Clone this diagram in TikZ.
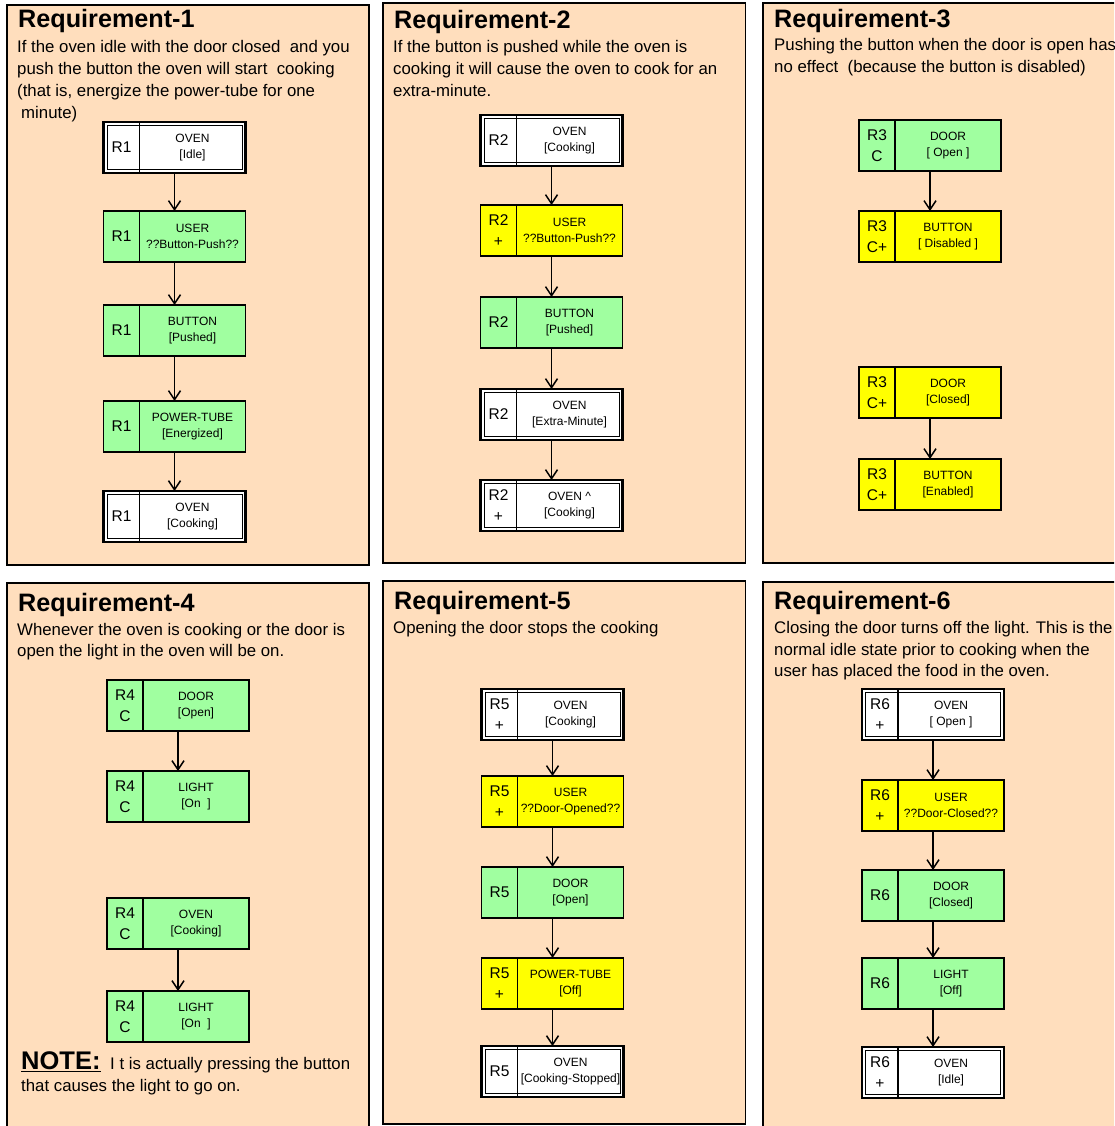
\documentclass[tikz,border=0pt]{standalone}
\usepackage{fontspec}
\setmainfont{Liberation Sans}
\usetikzlibrary{arrows.meta}

\definecolor{peach}{RGB}{255,222,189}
\definecolor{mint}{RGB}{160,255,160}
\definecolor{lemon}{RGB}{255,255,0}

\tikzset{
  panel/.style={draw=black, line width=1.5pt, fill=peach},
  state/.style={draw=black, line width=1.6pt, minimum width=142pt,
    minimum height=51pt, inner sep=0pt, outer sep=0pt},
  gbox/.style={fill=mint},
  ybox/.style={fill=lemon},
  wbox/.style={fill=white, line width=2.2pt},
  divider/.style={draw=black, line width=1.4pt},
  flow/.style={line width=1.5pt,
    -{Straight Barb[length=9pt,width=12pt,line width=1.5pt]}},
  title/.style={anchor=base west, inner sep=0pt,
    font=\fontsize{25.2}{28}\selectfont\bfseries},
  body/.style={anchor=base west, inner sep=0pt,
    font=\fontsize{16.8}{22}\selectfont},
  tagtext/.style={inner sep=0pt, align=center,
    font=\fontsize{15.5}{20.5}\selectfont},
  inscr/.style={inner sep=0pt, align=center,
    font=\fontsize{12}{16}\selectfont},
}

% one state box: name, centre x, top y, fill style, tag, entity, state
\newcommand\stnode[7]{%
  \node[state,#4] (#1) at (#2,#3+25.5) {};
  \draw[divider] ([xshift=36pt]#1.north west) -- ([xshift=36pt]#1.south west);
  \node[tagtext] (#1-tag) at ([xshift=18pt]#1.west) {#5};
  \node[inscr] (#1-txt) at ([xshift=18pt]#1.center) {#6\\{#7}};
}
% the same with a double (framed) outline
\newcommand\stnodeD[7]{%
  \stnode{#1}{#2}{#3}{wbox}{#5}{#6}{#7}%
  \draw[line width=0.9pt] ([shift={(3.5pt,-3.5pt)}]#1.north west)
    rectangle ([shift={(-3.5pt,3.5pt)}]#1.south east);
}

\begin{document}
\begin{tikzpicture}[x=1pt,y=-1pt]
\useasboundingbox (0,0) rectangle (1114,1126);
\fill[white] (0,0) rectangle (1114,1126);
\clip (0,0) rectangle (1114,1126);

% ---------- panels ----------
\draw[panel] (7,5) rectangle (369,565);
\draw[panel] (383,3) rectangle (745.5,563);
\draw[panel] (763,3) rectangle (1130,563);
\draw[panel] (7,583) rectangle (369,1140);
\draw[panel] (383,581) rectangle (745.5,1124);
\draw[panel] (763,582) rectangle (1130,1140);

% ---------- Requirement 1 ----------
\node[title] (t1) at (18,28) {Requirement-1};
\node[body] (b1a) at (17,52.5) {If the oven idle with the door closed\ \ and you};
\node[body] (b1b) at (17,74.5) {push the button the oven will start\ \ cooking};
\node[body] (b1c) at (17,96.5) {(that is, energize the power-tube for one};
\node[body] (b1d) at (21,118.5) {minute)};

\stnodeD{a1}{174.5}{122}{}{R1}{OVEN}{[Idle]}
\stnode{a2}{174.5}{211}{gbox}{R1}{USER}{??Button-Push??}
\stnode{a3}{174.5}{305}{gbox}{R1}{BUTTON}{[Pushed]}
\stnode{a4}{174.5}{401}{gbox}{R1}{POWER-TUBE}{[Energized]}
\stnodeD{a5}{174.5}{491}{}{R1}{OVEN}{[Cooking]}
\draw[flow] (a1.south) -- (a2.north);
\draw[flow] (a2.south) -- (a3.north);
\draw[flow] (a3.south) -- (a4.north);
\draw[flow] (a4.south) -- (a5.north);

% ---------- Requirement 2 ----------
\node[title] (t2) at (394,29) {Requirement-2};
\node[body] (b2a) at (393,52.5) {If the button is pushed while the oven is};
\node[body] (b2b) at (393,74.5) {cooking it will cause the oven to cook for an};
\node[body] (b2c) at (393,96.5) {extra-minute.};

\stnodeD{c1}{551.5}{115}{}{R2}{OVEN}{[Cooking]}
\stnode{c2}{551.5}{205}{ybox}{R2\\+}{USER}{??Button-Push??}
\stnode{c3}{551.5}{297}{gbox}{R2}{BUTTON}{[Pushed]}
\stnodeD{c4}{551.5}{389}{}{R2}{OVEN}{[Extra-Minute]}
\stnodeD{c5}{551.5}{480}{}{R2\\+}{OVEN \^{}}{[Cooking]}
\draw[flow] (c1.south) -- (c2.north);
\draw[flow] (c2.south) -- (c3.north);
\draw[flow] (c3.south) -- (c4.north);
\draw[flow] (c4.south) -- (c5.north);

% ---------- Requirement 3 ----------
\node[title] (t3) at (774,28) {Requirement-3};
\node[body] (b3a) at (774,50.5) {Pushing the button when the door is open has};
\node[body] (b3b) at (774,72.5) {no effect\ \ (because the button is disabled)};

\stnode{e1}{930}{120}{gbox}{R3\\C}{DOOR}{[ Open ]}
\stnode{e2}{930}{211}{ybox}{R3\\C+}{BUTTON}{[ Disabled ]}
\stnode{e3}{930}{367}{ybox}{R3\\C+}{DOOR}{[Closed]}
\stnode{e4}{930}{459}{ybox}{R3\\C+}{BUTTON}{[Enabled]}
\draw[flow] (e1.south) -- (e2.north);
\draw[flow] (e3.south) -- (e4.north);

% ---------- Requirement 4 ----------
\node[title] (t4) at (18,611) {Requirement-4};
\node[body] (b4a) at (17,635.5) {Whenever the oven is cooking or the door is};
\node[body] (b4b) at (17,656.5) {open the light in the oven will be on.};

\stnode{g1}{178}{680}{gbox}{R4\\C}{DOOR}{[Open]}
\stnode{g2}{178}{771}{gbox}{R4\\C}{LIGHT}{[On\ \ ]}
\stnode{g3}{178}{898}{gbox}{R4\\C}{OVEN}{[Cooking]}
\stnode{g4}{178}{991}{gbox}{R4\\C}{LIGHT}{[On\ \ ]}
\draw[flow] (g1.south) -- (g2.north);
\draw[flow] (g3.south) -- (g4.north);

\node[anchor=base west, inner sep=0pt, font=\fontsize{25.5}{28}\selectfont\bfseries]
  (note) at (21,1069.5) {\underline{NOTE:}};
\node[body] (b4c) at (110,1069.5) {I t is actually pressing the button};
\node[body] (b4d) at (21,1091.5) {that causes the light to go on.};

% ---------- Requirement 5 ----------
\node[title] (t5) at (394,609.5) {Requirement-5};
\node[body] (b5a) at (393,633.5) {Opening the door stops the cooking};

\stnodeD{k1}{552.5}{689}{}{R5\\+}{OVEN}{[Cooking]}
\stnode{k2}{552.5}{776}{ybox}{R5\\+}{USER}{??Door-Opened??}
\stnode{k3}{552.5}{867}{gbox}{R5}{DOOR}{[Open]}
\stnode{k4}{552.5}{958}{ybox}{R5\\+}{POWER-TUBE}{[Off]}
\stnodeD{k5}{552.5}{1046}{}{R5}{OVEN}{[Cooking-Stopped]}
\draw[flow] (k1.south) -- (k2.north);
\draw[flow] (k2.south) -- (k3.north);
\draw[flow] (k3.south) -- (k4.north);
\draw[flow] (k4.south) -- (k5.north);

% ---------- Requirement 6 ----------
\node[title] (t6) at (774,609.5) {Requirement-6};
\node[body] (b6a) at (774,633.5) {Closing the door turns off the light. This is the};
\node[body] (b6b) at (774,655.5) {normal idle state prior to cooking when the};
\node[body] (b6c) at (774,676.5) {user has placed the food in the oven.};

\stnodeD{m1}{933}{689}{}{R6\\+}{OVEN}{[ Open ]}
\stnode{m2}{933}{780}{ybox}{R6\\+}{USER}{??Door-Closed??}
\stnode{m3}{933}{870}{gbox}{R6}{DOOR}{[Closed]}
\stnode{m4}{933}{958}{gbox}{R6}{LIGHT}{[Off]}
\stnodeD{m5}{933}{1047}{}{R6\\+}{OVEN}{[Idle]}
\draw[flow] (m1.south) -- (m2.north);
\draw[flow] (m2.south) -- (m3.north);
\draw[flow] (m3.south) -- (m4.north);
\draw[flow] (m4.south) -- (m5.north);
\end{tikzpicture}
\end{document}
